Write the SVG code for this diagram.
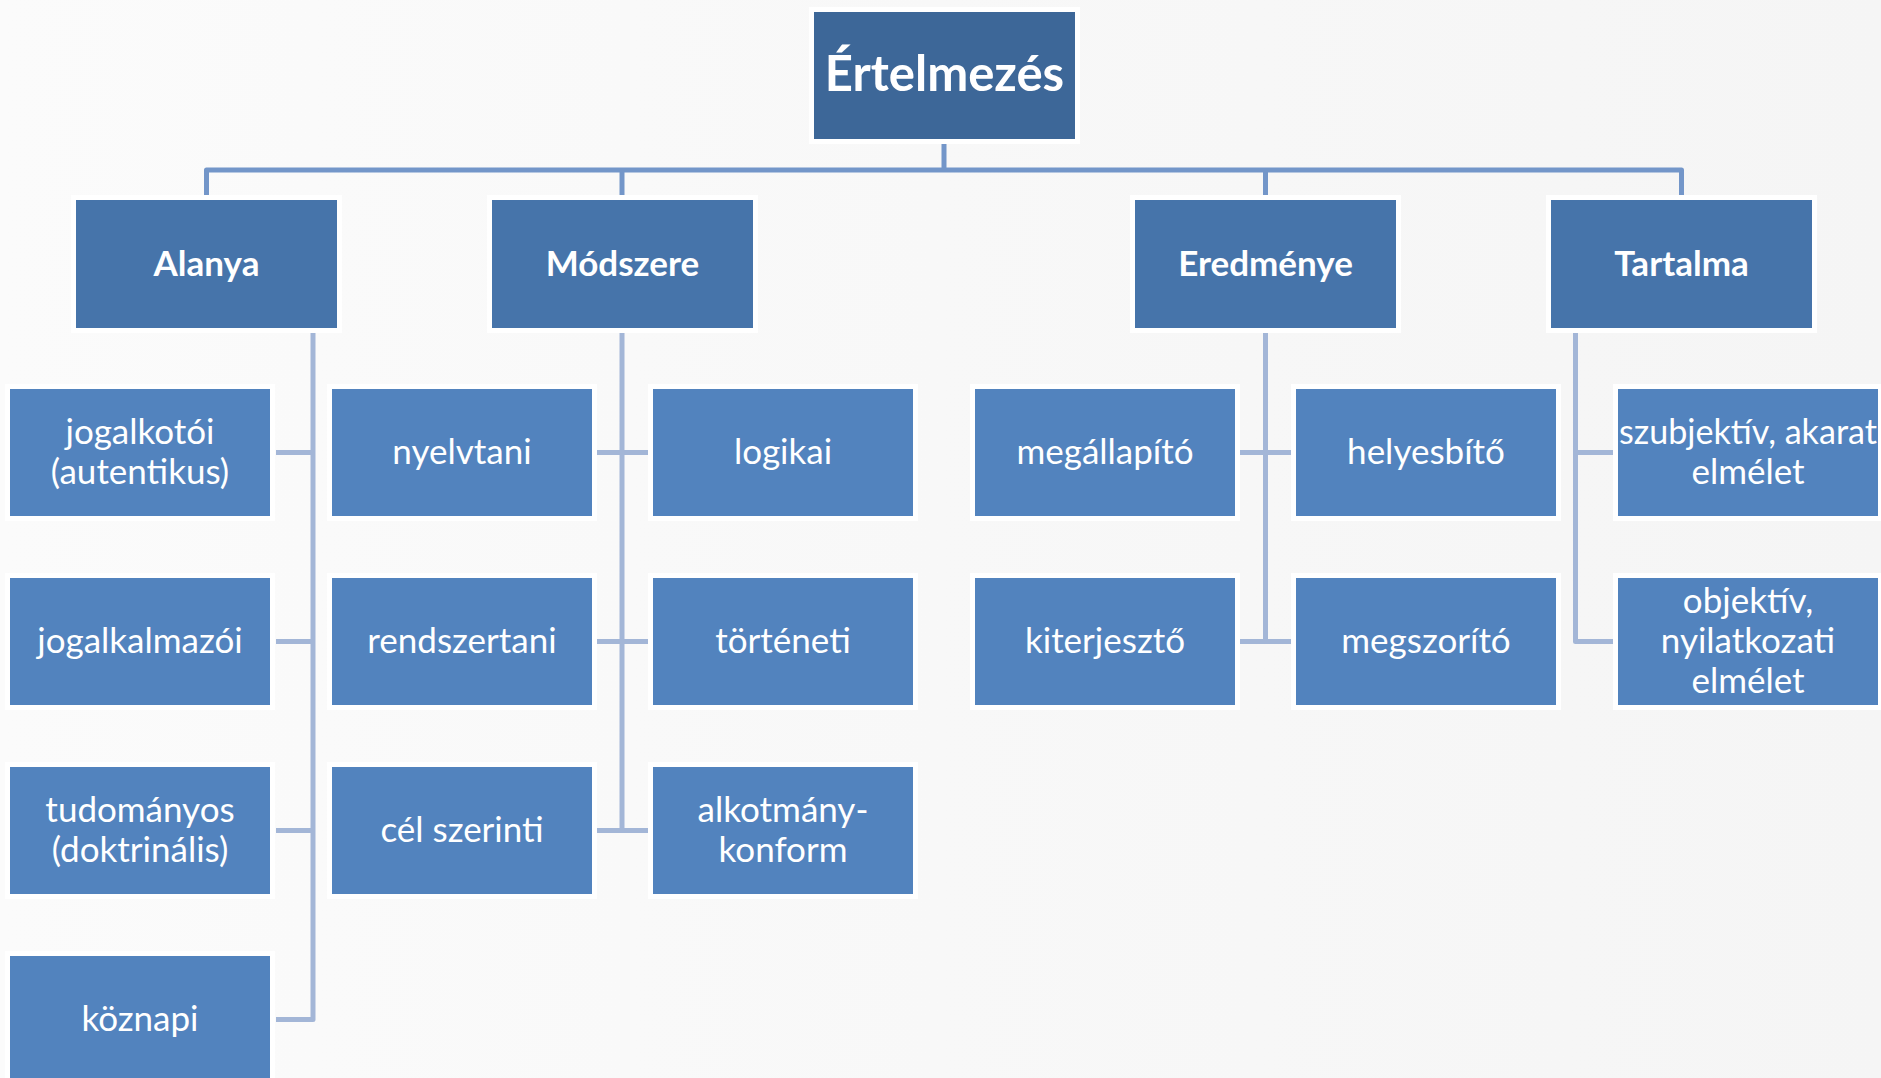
<svg xmlns="http://www.w3.org/2000/svg" width="1881" height="1078" viewBox="0 0 1881 1078">
<defs>
<linearGradient id="bg" x1="0" y1="0" x2="1" y2="0">
<stop offset="0" stop-color="#fbfbfb"/>
<stop offset="1" stop-color="#f5f5f5"/>
</linearGradient>
<style>
rect.n{stroke:#ffffff;stroke-width:10;paint-order:stroke;}
rect.root{fill:#3d6798;}
rect.l1{fill:#4674aa;}
rect.l2{fill:#5283be;}
text{font-family:"Lato","Liberation Sans",sans-serif;fill:#ffffff;text-anchor:middle;}
text.t0{font-size:49px;font-weight:bold;}
text.t1{font-size:35px;font-weight:bold;}
text.t2{font-size:35px;}
.bus{fill:none;stroke:#7396c9;stroke-width:5;stroke-linejoin:round;}
.sub{fill:none;stroke:#a3b6d7;stroke-width:5;stroke-linejoin:round;}
</style>
</defs>
<rect x="0" y="0" width="1881" height="1078" fill="url(#bg)"/>
<g id="connectors">
<path class="bus" d="M206.5,200 V170 H1681.5 V200"/>
<path class="bus" d="M944,139 V170"/>
<path class="bus" d="M622,170 V200"/>
<path class="bus" d="M1265.5,170 V200"/>
<path class="sub" d="M313,328 V1019.5 H276"/>
<path class="sub" d="M276,452.5 H313 M276,641.5 H313 M276,830.5 H313"/>
<path class="sub" d="M622,328 V830.5"/>
<path class="sub" d="M597,452.5 H648 M597,641.5 H648 M597,830.5 H648"/>
<path class="sub" d="M1265.5,328 V641.5"/>
<path class="sub" d="M1240,452.5 H1291 M1240,641.5 H1291"/>
<path class="sub" d="M1575.5,328 V641.5 H1613"/>
<path class="sub" d="M1575.5,452.5 H1613"/>
</g>
<g id="n-root"><rect class="n root" x="814" y="12" width="261" height="127"/><text class="t0" x="944.5" y="91">Értelmezés</text></g>
<g id="n-alanya"><rect class="n l1" x="76" y="200" width="261" height="128"/><text class="t1" x="206.5" y="276">Alanya</text></g>
<g id="n-modszere"><rect class="n l1" x="492" y="200" width="261" height="128"/><text class="t1" x="622.5" y="276">Módszere</text></g>
<g id="n-eredmenye"><rect class="n l1" x="1135" y="200" width="261" height="128"/><text class="t1" x="1265.5" y="276">Eredménye</text></g>
<g id="n-tartalma"><rect class="n l1" x="1551" y="200" width="261" height="128"/><text class="t1" x="1681.5" y="276">Tartalma</text></g>
<g id="n-jogalkotoi"><rect class="n l2" x="10" y="389" width="260" height="127"/><text class="t2" x="140" y="444">jogalkotói</text><text class="t2" x="140" y="484">(autentikus)</text></g>
<g id="n-jogalkalmazoi"><rect class="n l2" x="10" y="578" width="260" height="127"/><text class="t2" x="140" y="653">jogalkalmazói</text></g>
<g id="n-tudomanyos"><rect class="n l2" x="10" y="767" width="260" height="127"/><text class="t2" x="140" y="822">tudományos</text><text class="t2" x="140" y="862">(doktrinális)</text></g>
<g id="n-koznapi"><rect class="n l2" x="10" y="956" width="260" height="127"/><text class="t2" x="140" y="1031">köznapi</text></g>
<g id="n-nyelvtani"><rect class="n l2" x="332" y="389" width="260" height="127"/><text class="t2" x="462" y="464">nyelvtani</text></g>
<g id="n-rendszertani"><rect class="n l2" x="332" y="578" width="260" height="127"/><text class="t2" x="462" y="653">rendszertani</text></g>
<g id="n-celszerinti"><rect class="n l2" x="332" y="767" width="260" height="127"/><text class="t2" x="462" y="842">cél szerinti</text></g>
<g id="n-logikai"><rect class="n l2" x="653" y="389" width="260" height="127"/><text class="t2" x="783" y="464">logikai</text></g>
<g id="n-torteneti"><rect class="n l2" x="653" y="578" width="260" height="127"/><text class="t2" x="783" y="653">történeti</text></g>
<g id="n-alkotmany"><rect class="n l2" x="653" y="767" width="260" height="127"/><text class="t2" x="783" y="822">alkotmány-</text><text class="t2" x="783" y="862">konform</text></g>
<g id="n-megallapito"><rect class="n l2" x="975" y="389" width="260" height="127"/><text class="t2" x="1105" y="464">megállapító</text></g>
<g id="n-kiterjeszto"><rect class="n l2" x="975" y="578" width="260" height="127"/><text class="t2" x="1105" y="653">kiterjesztő</text></g>
<g id="n-helyesbito"><rect class="n l2" x="1296" y="389" width="260" height="127"/><text class="t2" x="1426" y="464">helyesbítő</text></g>
<g id="n-megszorito"><rect class="n l2" x="1296" y="578" width="260" height="127"/><text class="t2" x="1426" y="653">megszorító</text></g>
<g id="n-szubjektiv"><rect class="n l2" x="1618" y="389" width="260" height="127"/><text class="t2" x="1748" y="444" textLength="258" lengthAdjust="spacingAndGlyphs">szubjektív, akarat</text><text class="t2" x="1748" y="484">elmélet</text></g>
<g id="n-objektiv"><rect class="n l2" x="1618" y="578" width="260" height="127"/><text class="t2" x="1748" y="613">objektív,</text><text class="t2" x="1748" y="653">nyilatkozati</text><text class="t2" x="1748" y="693">elmélet</text></g>
</svg>
